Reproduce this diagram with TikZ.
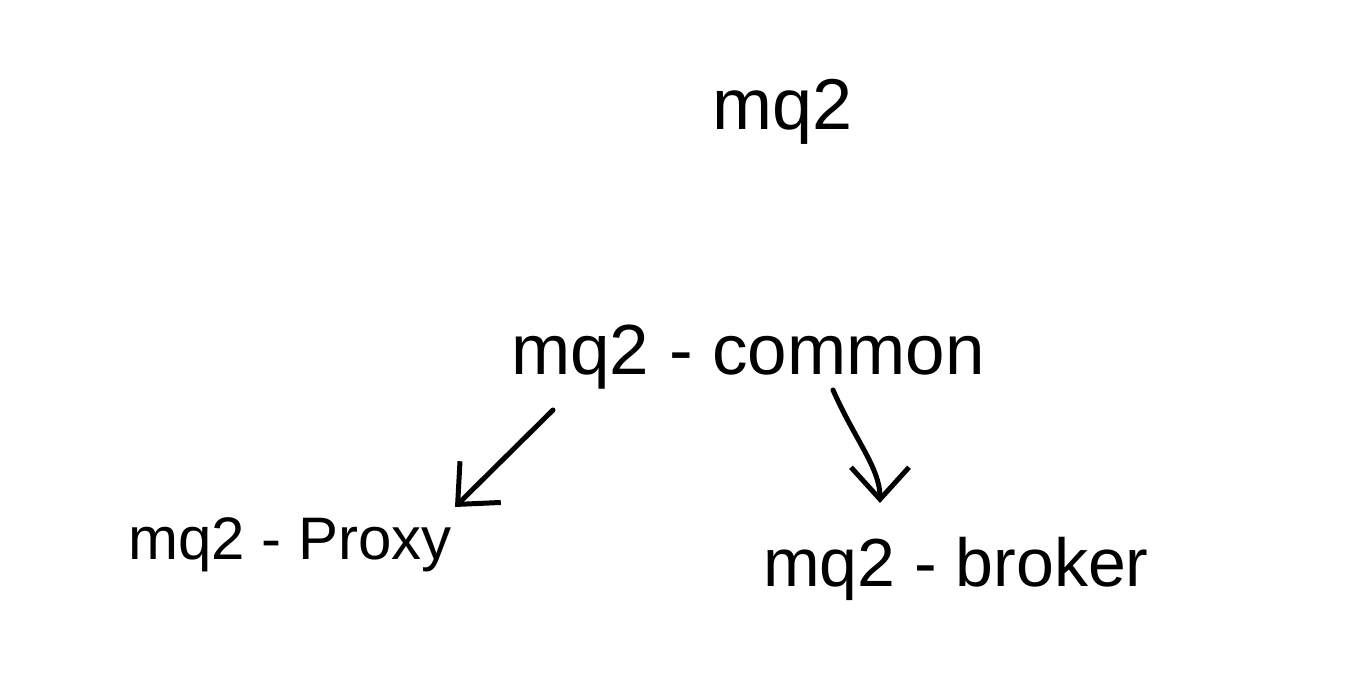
\documentclass[tikz,border=0pt]{standalone}
\usepackage{fontspec}
\setmainfont{Liberation Sans}
\usetikzlibrary{arrows.meta}
\begin{document}
\begin{tikzpicture}[x=1pt,y=1pt,
  lbl/.style={anchor=base,inner sep=0pt,text=black},
  conn/.style={line width=5pt,line cap=round,line join=round,black,
    -{Straight Barb[length=32pt,width=58pt,line width=5pt]}}]
\useasboundingbox (0,0) rectangle (1360,680);
\fill[white] (0,0) rectangle (1360,680);
\node[lbl,font=\fontsize{72}{80}\selectfont] (top) at (783,550) {mq2};
\node[lbl,font=\fontsize{71}{80}\selectfont] (common) at (748,305) {mq2 - common};
\node[lbl,font=\fontsize{60}{70}\selectfont] (proxy) at (290,120) {mq2 - Proxy};
\node[lbl,font=\fontsize{68}{76}\selectfont] (broker) at (956,93) {mq2 - broker};
\coordinate (cL) at ([shift={(-195,-35)}]common.base);
\coordinate (pL) at ([shift={(165,53)}]proxy.base);
\coordinate (cR) at ([shift={(85,-15)}]common.base);
\coordinate (bR) at ([shift={(-76,84)}]broker.base);
\draw[conn] (cL) -- (pL);
\draw[conn] (cR) .. controls ([shift={(22,-50)}]cR) and ([shift={(0,35)}]bR) .. (bR);
\end{tikzpicture}
\end{document}
